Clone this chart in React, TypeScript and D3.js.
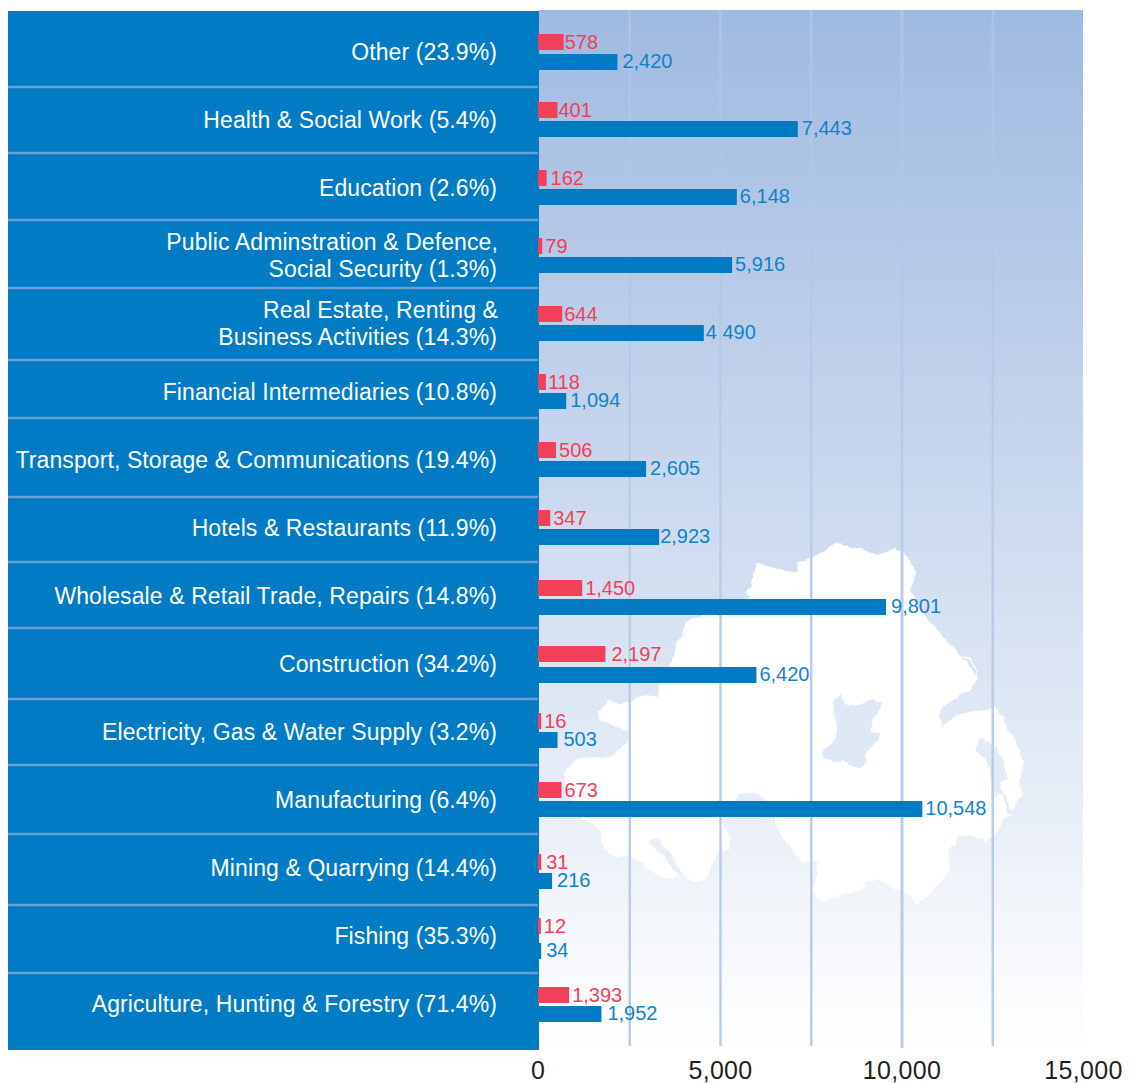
import React from "react";
import * as d3 from "d3";

const categories = [
  ["Other (23.9%)"],
  ["Health & Social Work (5.4%)"],
  ["Education (2.6%)"],
  ["Public Adminstration & Defence,", "Social Security (1.3%)"],
  ["Real Estate, Renting &", "Business Activities (14.3%)"],
  ["Financial Intermediaries (10.8%)"],
  ["Transport, Storage & Communications (19.4%)"],
  ["Hotels & Restaurants (11.9%)"],
  ["Wholesale & Retail Trade, Repairs (14.8%)"],
  ["Construction (34.2%)"],
  ["Electricity, Gas & Water Supply (3.2%)"],
  ["Manufacturing (6.4%)"],
  ["Mining & Quarrying (14.4%)"],
  ["Fishing (35.3%)"],
  ["Agriculture, Hunting & Forestry (71.4%)"],
];

// printed numbers
const redLabels = ["578", "401", "162", "79", "644", "118", "506", "347", "1,450", "2,197", "16", "673", "31", "12", "1,393"];
const blueLabels = ["2,420", "7,443", "6,148", "5,916", "4 490", "1,094", "2,605", "2,923", "9,801", "6,420", "503", "10,548", "216", "34", "1,952"];

// bar lengths as drawn against the axis (the printed bars do not quite follow their numbers)
const redDrawn = [680, 510, 210, 90, 640, 190, 470, 310, 1190, 1830, 60, 620, 60, 50, 830];
const blueDrawn = [2160, 7130, 5450, 5320, 4540, 750, 2950, 3310, 9560, 5990, 510, 10560, 360, 60, 1720];

const axisTicks = [0, 5000, 10000, 15000];
const gridTicks = [2500, 5000, 7500, 10000, 12500];

// small print offsets
const redNudge = [0, 0, 0, 0, 0, 0, 0, 0, 2, 0, -1, 0, 4, 0, 1];
const blueNudge = [1, 0, 0, 0, 0, 0, 0, 0, 2, 2, -1, 0, 4, 6, 1];
const redGap = [1, 1, 4, 3, 2, 2, 3, 3, 3, 6, 3, 3, 5, 3, 3];
const blueGap = [5, 4, 3, 3, 2, 4, 4, 1, 5, 3, 6, 3, 5, 5, 6];
const rowRules = [87, 153, 220, 288, 360, 418, 497, 562, 628, 699, 765, 834, 905, 973];

const mapOutline =
  "M757,563 L773,568 L785,571 L797,573 L798,563 L810,558 L823,553 L830,547 L837,543 L850,547 L863,550 L877,555 L887,551 L895,549 L903,553 L910,560 L916,573 L913,582 L910,590 L916,603 L923,613 L932,624 L940,633 L949,643 L957,653 L960,657 L970,657 L975,667 L977,677 L977,680 L970,690 L958,697 L947,703 L941,710 L938,717 L943,728 L947,722 L953,717 L962,713 L970,712 L987,710 L995,708 L1003,717 L1007,730 L1015,740 L1019,752 L1023,763 L1020,780 L1022,793 L1013,810 L1010,815 L1005,817 L997,830 L987,842 L973,835 L958,837 L948,850 L950,870 L940,883 L929,893 L918,904 L907,893 L893,888 L880,880 L867,880 L860,890 L840,895 L823,902 L813,893 L818,873 L817,860 L803,862 L787,843 L778,830 L773,803 L753,793 L743,793 L730,805 L723,817 L722,823 L730,838 L730,848 L720,852 L712,862 L707,878 L697,882 L688,880 L683,873 L680,878 L668,878 L657,875 L640,862 L628,855 L615,857 L605,850 L600,828 L583,818 L575,805 L567,790 L563,773 L577,758 L595,758 L610,757 L620,747 L632,737 L627,730 L614,726 L602,720 L597,713 L608,700 L620,704 L630,703 L643,695 L658,697 L660,683 L673,663 L677,643 L693,625 L682,635 L687,620 L700,617 L725,606 L750,598 L747,593 L752,583 Z";
const loughNeagh =
  "M840,693 L833,703 L837,723 L837,738 L823,750 L823,757 L833,763 L843,760 L855,767 L860,768 L865,763 L867,750 L878,740 L880,733 L870,732 L873,720 L883,702 L873,700 L855,706 L847,705 Z";
const loughErne =
  "M648,842 L657,837 L662,845 L672,855 L677,868 L683,873 L680,878 L672,868 L665,858 L655,848 Z";
const strangford =
  "M980,738 L975,750 L987,760 L990,777 L993,790 L990,798 L1002,795 L1008,815 L1012,812 L1002,790 L1000,783 L1007,778 L1005,763 L997,748 Z";
const larneLough = "M960,657 L970,660 L975,670 L976,678 L972,670 L966,662 Z";

export default function App() {
  const x = d3.scaleLinear().domain([0, 15000]).range([539, 1083.5]);
  const rows = d3.scaleBand<number>().domain(d3.range(categories.length)).range([17, 1037]);
  const step = rows.step();
  const font = "'Liberation Sans', Arial, sans-serif";
  const red = "#f23f5a";
  const blue = "#007bc4";
  const fmtAxis = d3.format(",");

  return (
    <svg
      width={1131}
      height={1083}
      style={{ position: "absolute", left: 0, top: 0, display: "block" }}
      fontFamily={font}
    >
      <defs>
        <linearGradient id="sky" gradientUnits="userSpaceOnUse" x1="0" y1="10" x2="0" y2="1050">
          <stop offset="0" stopColor="#9fbae1" />
          <stop offset="0.5" stopColor="#cedbef" />
          <stop offset="1" stopColor="#ffffff" />
        </linearGradient>
        <linearGradient id="gridFade" gradientUnits="userSpaceOnUse" x1="0" y1="10" x2="0" y2="1050">
          <stop offset="0" stopColor="#abc3e6" />
          <stop offset="0.45" stopColor="#b9cce9" />
          <stop offset="1" stopColor="#b9cde9" />
        </linearGradient>
        {/* roughens the traced coastline a little */}
        <filter id="coast" x="-5%" y="-5%" width="110%" height="110%">
          <feTurbulence type="fractalNoise" baseFrequency="0.12" numOctaves={2} seed={4} />
          <feDisplacementMap in="SourceGraphic" scale={5} xChannelSelector="R" yChannelSelector="G" />
        </filter>
      </defs>

      <rect x={539} y={10} width={544} height={1040} fill="url(#sky)" />
      <g filter="url(#coast)">
        <path d={mapOutline} fill="#fff" stroke="#fff" strokeWidth={0.5} />
        <path d={loughNeagh} fill="#dfe8f5" />
        <path d={loughErne} fill="#e9eff8" />
        <path d={strangford} fill="#e3ebf6" />
        <path d={larneLough} fill="#d9e4f3" />
      </g>

      {gridTicks.map((t) => (
        <rect
          key={t}
          x={x(t) - (t === 10000 ? 1.5 : 1.25)}
          y={10}
          width={t === 10000 ? 3 : 2.5}
          height={t === 10000 ? 1038 : 1036}
          fill="url(#gridFade)"
        />
      ))}

      <rect x={8} y={11} width={531} height={1039} fill={blue} />
      {rowRules.map((y) => (
        <line key={y} x1={8} x2={538} y1={y} y2={y} stroke="#6a9fd6" strokeWidth={2.5} />
      ))}

      {categories.map((lines, i) => {
        const cy = (rows(i) as number) + step / 2;
        const top = (rows(i) as number) + 17;
        const redX = x(redDrawn[i]);
        const blueX = x(blueDrawn[i]);
        const redY = top + redNudge[i];
        const blueY = top + 19 + blueNudge[i];
        return (
          <g key={i}>
            <text textAnchor="end" fill="#fff" fontSize={23} letterSpacing={0.1}>
              {lines.map((l, j) => (
                <tspan
                  key={j}
                  x={j === 0 && lines.length > 1 ? 498 : 497}
                  y={cy + 8.5 + (j - (lines.length - 1) / 2) * 27}
                >
                  {l}
                </tspan>
              ))}
            </text>
            <rect x={538} y={redY} width={redX - 538} height={16} fill={red} />
            <rect x={539} y={blueY} width={blueX - 539} height={16} fill={blue} />
            <text x={redX + redGap[i]} y={redY + 15} fontSize={20} fill={red}>
              {redLabels[i]}
            </text>
            <text x={blueX + blueGap[i]} y={blueY + 14} fontSize={20} fill="#1183c8">
              {blueLabels[i]}
            </text>
          </g>
        );
      })}

      {axisTicks.map((t) => (
        <text
          key={t}
          x={x(t) + (t === 0 ? -1 : 0)}
          y={1079}
          textAnchor="middle"
          fontSize={25}
          letterSpacing={0.3}
          fill="#231f20"
        >
          {fmtAxis(t)}
        </text>
      ))}
    </svg>
  );
}
